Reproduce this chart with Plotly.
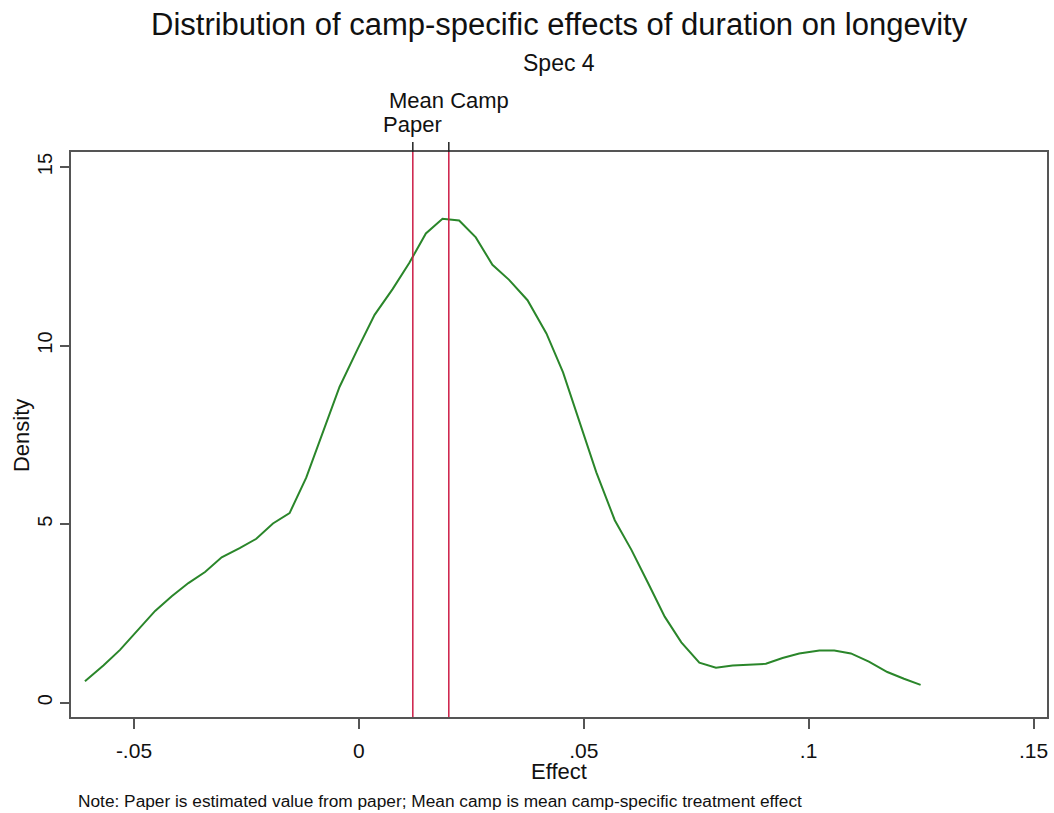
import plotly.graph_objects as go

# ---- data ----
effect = [-0.0609, -0.0568, -0.0531, -0.0490, -0.0453, -0.0416, -0.0379, -0.0342,
          -0.0305, -0.0265, -0.0228, -0.0191, -0.0154, -0.0117, -0.0080, -0.0043,
          -0.0002, 0.0035, 0.0075, 0.0112, 0.0149, 0.0186, 0.0223, 0.0260,
          0.0297, 0.0334, 0.0375, 0.0417, 0.0454, 0.0491, 0.0528, 0.0569,
          0.0606, 0.0643, 0.0680, 0.0717, 0.0757, 0.0794, 0.0831, 0.0905,
          0.0942, 0.0979, 0.1024, 0.1057, 0.1094, 0.1134, 0.1175, 0.1212, 0.1249]
density = [0.60, 1.04, 1.48, 2.05, 2.57, 2.98, 3.35, 3.66,
           4.07, 4.33, 4.59, 5.02, 5.31, 6.30, 7.59, 8.84,
           9.92, 10.86, 11.58, 12.31, 13.14, 13.55, 13.50, 13.03,
           12.26, 11.84, 11.27, 10.34, 9.25, 7.85, 6.45, 5.11,
           4.28, 3.35, 2.41, 1.69, 1.12, 0.98, 1.04, 1.09,
           1.25, 1.38, 1.46, 1.46, 1.38, 1.15, 0.86, 0.67, 0.50]

ref_names = ["Paper", "Mean Camp"]
ref_values = [0.012, 0.020]

x_tickvals = [-0.05, 0, 0.05, 0.1, 0.15]
x_ticktext = ["-.05", "0", ".05", ".1", ".15"]
y_tickvals = [0, 5, 10, 15]
y_ticktext = ["0", "5", "10", "15"]

title_text = "Distribution of camp-specific effects of duration on longevity"
subtitle_text = "Spec 4"
x_title = "Effect"
y_title = "Density"
note_text = "Note: Paper is estimated value from paper; Mean camp is mean camp-specific treatment effect"

# ---- styles ----
FONT = "Liberation Sans, Arial, sans-serif"
GREEN = "#2a862a"
RED = "#cc1c46"
FRAME = "#555555"
TXT = "#111111"

fig = go.Figure()
fig.add_trace(go.Scatter(x=effect, y=density, mode="lines",
                         line=dict(color=GREEN, width=2), showlegend=False,
                         hoverinfo="x+y"))

# plot area: top 152, bottom 717 -> 565 px tall
PH = 565.0
label_y = {"Paper": (717 - 124) / PH, "Mean Camp": (717 - 101) / PH}

for name, val in zip(ref_names, ref_values):
    fig.add_shape(type="line", xref="x", yref="paper", x0=val, x1=val, y0=0, y1=1,
                  line=dict(color=RED, width=1.5), layer="above")
    fig.add_shape(type="line", xref="x", yref="paper", x0=val, x1=val, y0=1,
                  y1=1 + 10 / PH, line=dict(color="#222222", width=1.5))
    fig.add_annotation(x=val, xref="x", y=label_y[name], yref="paper", text=name,
                       showarrow=False, xanchor="center", yanchor="middle",
                       font=dict(family=FONT, size=22, color=TXT))

fig.add_annotation(x=0.5, xref="paper", y=(717 - 25) / PH, yref="paper",
                   text=title_text, showarrow=False, xanchor="center", yanchor="middle",
                   font=dict(family=FONT, size=31, color=TXT))
fig.add_annotation(x=0.5, xref="paper", y=(717 - 63) / PH, yref="paper",
                   text=subtitle_text, showarrow=False, xanchor="center", yanchor="middle",
                   font=dict(family=FONT, size=23, color=TXT))
fig.add_annotation(x=0.5, xref="paper", y=(717 - 771) / PH, yref="paper",
                   text=x_title, showarrow=False, xanchor="center", yanchor="middle",
                   font=dict(family=FONT, size=22, color=TXT))
fig.add_annotation(x=(22 - 71) / 978, xref="paper", y=(717 - 436) / PH, yref="paper",
                   text=y_title, showarrow=False, xanchor="center", yanchor="middle",
                   textangle=-90, font=dict(family=FONT, size=22, color=TXT))
fig.add_annotation(x=(76 - 71) / 978, xref="paper", y=(717 - 801) / PH, yref="paper",
                   text=note_text, showarrow=False, xanchor="left", yanchor="middle",
                   font=dict(family=FONT, size=17.3, color=TXT))

fig.update_layout(
    width=1054, height=813,
    margin=dict(l=71, r=5, t=152, b=96),
    paper_bgcolor="white", plot_bgcolor="white",
    font=dict(family=FONT, color=TXT),
    showlegend=False,
    xaxis=dict(range=[-0.064, 0.153], tickvals=x_tickvals, ticktext=x_ticktext,
               ticks="outside", ticklen=10, tickwidth=1.5, tickcolor=FRAME,
               showline=True, linecolor=FRAME, linewidth=2, mirror=True,
               showgrid=False, zeroline=False, ticklabelstandoff=4,
               tickfont=dict(family=FONT, size=21, color=TXT)),
    yaxis=dict(range=[-0.40, 15.42], tickvals=y_tickvals, ticktext=y_ticktext,
               ticks="outside", ticklen=9, tickwidth=1.5, tickcolor=FRAME,
               showline=True, linecolor=FRAME, linewidth=2, mirror=True,
               showgrid=False, zeroline=False, tickangle=-90,
               tickfont=dict(family=FONT, size=20, color=TXT)),
)

fig.write_html("out.html", config={"displayModeBar": False},
               post_script="document.body.style.margin='0px';document.body.style.overflow='hidden';")
